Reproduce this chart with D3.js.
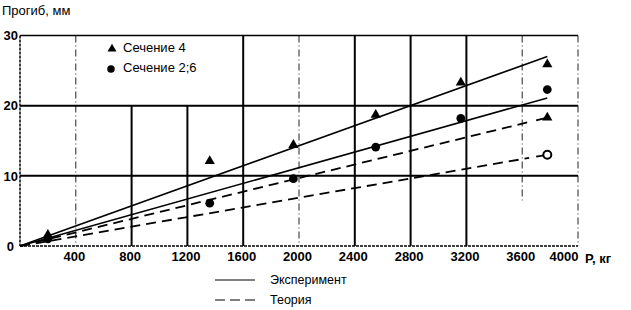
<!DOCTYPE html>
<html>
<head>
<meta charset="utf-8">
<script src="https://cdn.jsdelivr.net/npm/d3@7"></script>
<style>
  body { margin: 0; background: #fff; }
  text { font-family: "Liberation Sans", Arial, sans-serif; fill: #000; }
</style>
</head>
<body>
<div id="canvas"></div>
<script>
"use strict"

/* Data */
let loads = [200, 1360, 1960, 2550, 3160, 3780];       // P, кг
let section4 = [1.6, 12.1, 14.4, 18.7, 23.3, 25.9];     // Сечение 4, мм
let section26 = [1.0, 6.1, 9.6, 14.1, 18.2, 22.3];      // Сечение 2;6, мм

/* fitted lines, from origin to last load */
let lineEnd = 3780;
let expEnds = [27.0, 21.1];      // Эксперимент
let theoryEnds = [18.3, 13.0];   // Теория

let xTicks = [400, 800, 1200, 1600, 2000, 2400, 2800, 3200, 3600, 4000];
let yTicks = [0, 10, 20, 30];

/* gridline layout */
let solidGridX = [1600, 2400, 2800, 3200];
let shortGridX = [800, 1200];
let dashedGridX = [400, 2000, 3600, 4000];
let gridY = [10, 20, 30];

let svgWidth = 631;
let svgHeight = 310;

let svg = d3.select("#canvas")
    .append("svg")
    .attr("width", svgWidth)
    .attr("height", svgHeight);

let xScale = d3.scaleLinear()
    .domain([0, 4000])
    .range([20, 578]);

let yScale = d3.scaleLinear()
    .domain([0, 30])
    .range([246, 35.5]);

/* grid */
svg.selectAll(".gx-dash")
    .data(dashedGridX)
    .join("line")
    .attr("x1", d => xScale(d)).attr("x2", d => xScale(d))
    .attr("y1", yScale(30))
    .attr("y2", d => d == 3600 ? yScale(6.5) : yScale(0))
    .attr("stroke", "#222")
    .attr("stroke-width", 1)
    .attr("stroke-dasharray", "7,3,1,3");

svg.selectAll(".gx-solid")
    .data(solidGridX)
    .join("line")
    .attr("x1", d => xScale(d)).attr("x2", d => xScale(d))
    .attr("y1", yScale(30)).attr("y2", yScale(0))
    .attr("stroke", "#000")
    .attr("stroke-width", 2);

svg.selectAll(".gx-short")
    .data(shortGridX)
    .join("line")
    .attr("x1", d => xScale(d)).attr("x2", d => xScale(d))
    .attr("y1", yScale(20)).attr("y2", yScale(0))
    .attr("stroke", "#000")
    .attr("stroke-width", 2);

svg.selectAll(".gy")
    .data(gridY)
    .join("line")
    .attr("x1", xScale(0)).attr("x2", xScale(4000))
    .attr("y1", d => yScale(d)).attr("y2", d => yScale(d))
    .attr("stroke", "#000")
    .attr("stroke-width", d => d == 30 ? 1.5 : 2);

/* left and bottom axis lines (dotted in the scan) */
svg.append("line")
    .attr("x1", xScale(0)).attr("x2", xScale(0))
    .attr("y1", yScale(30)).attr("y2", yScale(0))
    .attr("stroke", "#000")
    .attr("stroke-width", 1.5)
    .attr("stroke-dasharray", "3,1");

svg.append("line")
    .attr("x1", xScale(0)).attr("x2", xScale(4000))
    .attr("y1", yScale(0)).attr("y2", yScale(0))
    .attr("stroke", "#000")
    .attr("stroke-width", 1.5)
    .attr("stroke-dasharray", "3,1");

/* axes: labels only */
let xAxis = svg.append("g")
    .attr("transform", "translate(0," + yScale(0) + ")")
    .call(d3.axisBottom(xScale).tickValues(xTicks).tickFormat(d3.format("d"))
        .tickSize(0).tickPadding(6));
xAxis.select(".domain").remove();
xAxis.selectAll("text")
    .attr("font-family", "Liberation Sans, Arial, sans-serif")
    .attr("font-size", 13)
    .attr("font-weight", "bold")
    .attr("text-anchor", d => d == 4000 ? "end" : "middle")
    .attr("dx", d => d == 4000 ? 0 : -2);

let yAxis = svg.append("g")
    .attr("transform", "translate(" + xScale(0) + ",0)")
    .call(d3.axisLeft(yScale).tickValues(yTicks).tickSize(0).tickPadding(2));
yAxis.select(".domain").remove();
yAxis.selectAll("text")
    .attr("font-family", "Liberation Sans, Arial, sans-serif")
    .attr("font-size", 13)
    .attr("font-weight", "bold")
    .attr("dx", d => d == 0 ? -4 : 0);

svg.append("text")
    .attr("x", 585)
    .attr("y", 263)
    .attr("font-size", 13)
    .attr("font-weight", "bold")
    .text("P, кг");

svg.append("text")
    .attr("x", 2)
    .attr("y", 15)
    .attr("font-size", 13)
    .text("Прогиб, мм");

/* fitted lines */
svg.selectAll(".exp")
    .data(expEnds)
    .join("line")
    .attr("x1", xScale(0)).attr("y1", yScale(0))
    .attr("x2", xScale(lineEnd)).attr("y2", d => yScale(d))
    .attr("stroke", "#000")
    .attr("stroke-width", 1.6);

/* theory lines: dashed, then a short solid piece into the end marker */
let theoryStop = lineEnd - 130;
svg.selectAll(".theory")
    .data(theoryEnds)
    .join("line")
    .attr("x1", xScale(0)).attr("y1", yScale(0))
    .attr("x2", xScale(theoryStop)).attr("y2", d => yScale(d * theoryStop / lineEnd))
    .attr("stroke", "#000")
    .attr("stroke-width", 1.8)
    .attr("stroke-dasharray", "10,6");

svg.selectAll(".theory-end")
    .data(theoryEnds)
    .join("line")
    .attr("x1", xScale(lineEnd - 80)).attr("y1", d => yScale(d * (lineEnd - 80) / lineEnd))
    .attr("x2", xScale(lineEnd)).attr("y2", d => yScale(d))
    .attr("stroke", "#000")
    .attr("stroke-width", 1.8);

/* markers */
let triangle = d3.symbol().type(d3.symbolTriangle).size(45);
let dot = d3.symbol().type(d3.symbolCircle).size(60);

svg.selectAll(".tri")
    .data(loads)
    .join("path")
    .attr("d", triangle)
    .attr("transform", (d, i) => "translate(" + xScale(d) + "," + yScale(section4[i]) + ")")
    .attr("fill", "#000");

svg.selectAll(".dot")
    .data(loads)
    .join("path")
    .attr("d", dot)
    .attr("transform", (d, i) => "translate(" + xScale(d) + "," + yScale(section26[i]) + ")")
    .attr("fill", "#000");

/* theory end markers */
svg.append("path")
    .attr("d", triangle)
    .attr("transform", "translate(" + xScale(lineEnd) + "," + yScale(theoryEnds[0]) + ")")
    .attr("fill", "#000");

svg.append("circle")
    .attr("cx", xScale(lineEnd))
    .attr("cy", yScale(theoryEnds[1]))
    .attr("r", 4)
    .attr("fill", "#fff")
    .attr("stroke", "#000")
    .attr("stroke-width", 2);

/* legend for markers */
svg.append("path")
    .attr("d", d3.symbol().type(d3.symbolTriangle).size(35))
    .attr("transform", "translate(112,49)")
    .attr("fill", "#000");
svg.append("text")
    .attr("x", 123).attr("y", 49)
    .attr("dominant-baseline", "middle")
    .attr("font-size", 13)
    .text("Сечение 4");

svg.append("path")
    .attr("d", d3.symbol().type(d3.symbolCircle).size(45))
    .attr("transform", "translate(111,69)")
    .attr("fill", "#000");
svg.append("text")
    .attr("x", 123).attr("y", 69)
    .attr("dominant-baseline", "middle")
    .attr("font-size", 13)
    .text("Сечение 2;6");

/* legend for lines */
svg.append("line")
    .attr("x1", 215).attr("x2", 255)
    .attr("y1", 280).attr("y2", 280)
    .attr("stroke", "#000")
    .attr("stroke-width", 1.2);
svg.append("text")
    .attr("x", 270).attr("y", 281)
    .attr("dominant-baseline", "middle")
    .attr("font-size", 12.5)
    .text("Эксперимент");

svg.append("line")
    .attr("x1", 215).attr("x2", 255)
    .attr("y1", 300).attr("y2", 300)
    .attr("stroke", "#000")
    .attr("stroke-width", 1.2)
    .attr("stroke-dasharray", "10,5");
svg.append("text")
    .attr("x", 270).attr("y", 301)
    .attr("dominant-baseline", "middle")
    .attr("font-size", 12.5)
    .text("Теория");
</script>
</body>
</html>
